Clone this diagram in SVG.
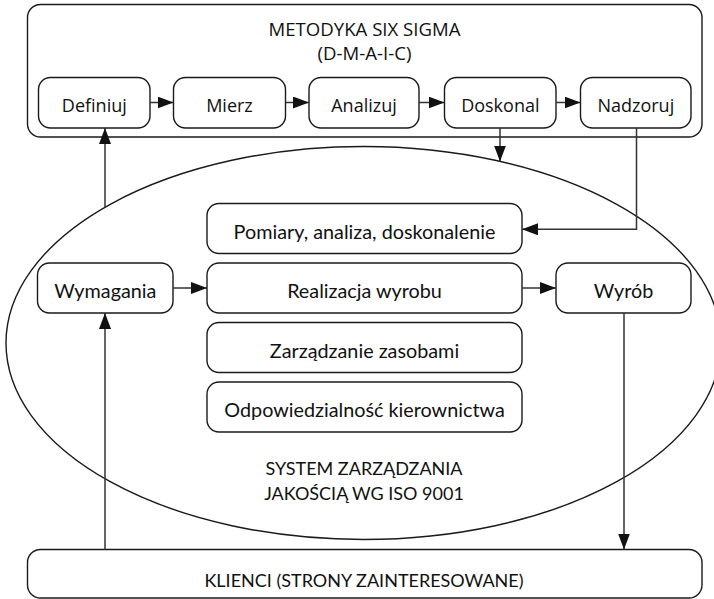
<svg xmlns="http://www.w3.org/2000/svg" width="714" height="599" viewBox="0 0 714 599">
<defs>
<marker id="ah" viewBox="0 0 16 12" refX="16" refY="6" markerWidth="16" markerHeight="12" markerUnits="userSpaceOnUse" orient="auto">
<path d="M0,0 L16,6 L0,12 Z" fill="#111"/>
</marker>
<style>
.box{fill:#fff;stroke:#1a1a1a;stroke-width:1.4}
.ell{fill:none;stroke:#1a1a1a;stroke-width:1.4}
.con{fill:none;stroke:#333;stroke-width:1.5;marker-end:url(#ah)}
.t1{font-family:"Open Sans","Noto Sans",sans-serif;font-size:18px;fill:#111;text-anchor:middle}
.t2{font-family:Lato,"Open Sans",sans-serif;font-size:18px;fill:#111;text-anchor:middle}
.t3{font-family:Lato,"Open Sans",sans-serif;font-size:19.8px;fill:#111;text-anchor:middle}
</style>
</defs>
<rect width="714" height="599" fill="#fff"/>
<ellipse id="qms" class="ell" cx="363.5" cy="343" rx="357.5" ry="196.5"/>
<text class="t2" x="364" y="475">SYSTEM ZARZĄDZANIA</text>
<text class="t2" x="364" y="500">JAKOŚCIĄ WG ISO 9001</text>

<g id="sixsigma">
<rect class="box" x="27.5" y="4.5" width="674.5" height="132.5" rx="13"/>
<text class="t1" x="364.5" y="36" style="font-size:18.6px">METODYKA SIX SIGMA</text>
<text class="t1" x="364.5" y="60" style="font-size:18.6px">(D-M-A-I-C)</text>
</g>
<g id="definiuj"><rect class="box" x="38.5" y="77.5" width="111.5" height="50.5" rx="12"/><text class="t1" x="94.3" y="112">Definiuj</text></g>
<g id="mierz"><rect class="box" x="173.5" y="77.5" width="112" height="50.5" rx="12"/><text class="t1" x="229.5" y="112">Mierz</text></g>
<g id="analizuj"><rect class="box" x="309" y="77.5" width="110" height="50.5" rx="12"/><text class="t1" x="364" y="112">Analizuj</text></g>
<g id="doskonal"><rect class="box" x="444.5" y="77.5" width="111.5" height="50.5" rx="12"/><text class="t1" x="500.3" y="112">Doskonal</text></g>
<g id="nadzoruj"><rect class="box" x="580.5" y="77.5" width="110.5" height="50.5" rx="12"/><text class="t1" x="635.8" y="112">Nadzoruj</text></g>

<g id="pomiary"><rect class="box" x="207" y="203.5" width="315" height="50" rx="12"/><text class="t3" x="364.5" y="239">Pomiary, analiza, doskonalenie</text></g>
<g id="wymagania"><rect class="box" x="37.5" y="263" width="135.5" height="50" rx="12"/><text class="t3" x="105.3" y="297.5">Wymagania</text></g>
<g id="realizacja"><rect class="box" x="207" y="263" width="315" height="50" rx="12"/><text class="t3" x="364.5" y="298">Realizacja wyrobu</text></g>
<g id="wyrob"><rect class="box" x="556" y="263" width="135" height="50" rx="12"/><text class="t3" x="623.5" y="298">Wyrób</text></g>
<g id="zasoby"><rect class="box" x="207" y="322.5" width="315" height="50" rx="12"/><text class="t3" x="364.5" y="357.5">Zarządzanie zasobami</text></g>
<g id="kierownictwo"><rect class="box" x="207" y="382" width="315" height="50" rx="12"/><text class="t3" x="364.5" y="416.5">Odpowiedzialność kierownictwa</text></g>

<g id="klienci"><rect class="box" x="27.5" y="549.5" width="674.5" height="48.5" rx="13"/><text class="t2" x="364" y="586.5">KLIENCI (STRONY ZAINTERESOWANE)</text></g>

<g id="connectors">
<path class="con" d="M150,102.5 H173.5"/>
<path class="con" d="M285.5,102.5 H309"/>
<path class="con" d="M419,102.5 H444.5"/>
<path class="con" d="M556,102.5 H580.5"/>
<path class="con" d="M500,128 V161.5"/>
<path class="con" d="M636.5,128 V229.3 H522"/>
<path class="con" d="M105,207.6 V128"/>
<path class="con" d="M173,288 H207"/>
<path class="con" d="M522,288 H556"/>
<path class="con" d="M105,549.5 V313"/>
<path class="con" d="M624,313 V549.5"/>
</g>
</svg>
